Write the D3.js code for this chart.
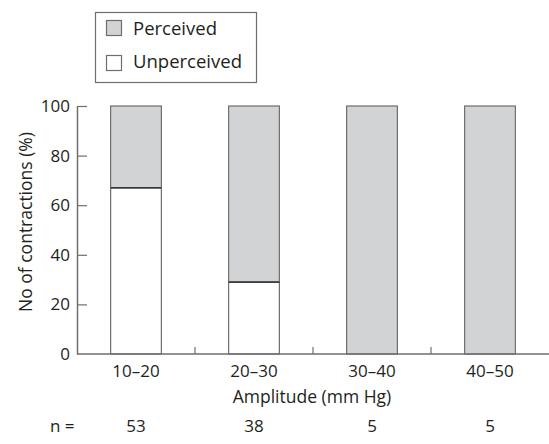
<!DOCTYPE html>
<html>
<head>
<meta charset="utf-8">
<script src="https://cdn.jsdelivr.net/npm/d3@7"></script>
<style>
  body { margin: 0; background: #fff; }
  svg { font-family: "Open Sans", "DejaVu Sans", sans-serif; }
</style>
</head>
<body>
<div id="chart"></div>
<script>
// chart data
const categories = ['10–20', '20–30', '30–40', '40–50'];
const unperceived = [67, 29, 0, 0];
const perceived = [33, 71, 100, 100];
const counts = [53, 38, 5, 5];
const yTicks = [0, 20, 40, 60, 80, 100];

const W = 549, H = 444;
const margin = { top: 106, right: 0, bottom: 90, left: 77 };
const width = W - margin.left - margin.right;
const height = H - margin.top - margin.bottom;

const svg = d3.select('#chart')
  .append('svg')
  .attr('width', W)
  .attr('height', H);

const g = svg.append('g')
  .attr('transform', `translate(${margin.left},${margin.top})`);

const x = d3.scaleBand()
  .domain(categories)
  .range([0, width])
  .paddingInner(0.57)
  .paddingOuter(0.285);

const step = x.step();

const y = d3.scaleLinear()
  .domain([0, 100])
  .range([height, 0]);

const axisColor = '#6d6e71';
const grey = '#d1d3d4';
const ink = '#231f20';

// bars: unperceived (white) stacked under perceived (grey)
const rows = categories.map((c, i) => ({ c, u: unperceived[i], p: perceived[i] }));

g.selectAll('.perc')
  .data(rows)
  .join('rect')
  .attr('x', d => x(d.c))
  .attr('y', d => y(d.u + d.p))
  .attr('width', x.bandwidth())
  .attr('height', d => y(d.u) - y(d.u + d.p))
  .attr('fill', grey)
  .attr('stroke', axisColor)
  .attr('stroke-width', 1.2);

g.selectAll('.unperc')
  .data(rows.filter(d => d.u > 0))
  .join('rect')
  .attr('x', d => x(d.c))
  .attr('y', d => y(d.u))
  .attr('width', x.bandwidth())
  .attr('height', d => y(0) - y(d.u))
  .attr('fill', '#fff')
  .attr('stroke', axisColor)
  .attr('stroke-width', 1.2);

// dividing line between the two parts
g.selectAll('.div')
  .data(rows.filter(d => d.u > 0))
  .join('line')
  .attr('x1', d => x(d.c))
  .attr('x2', d => x(d.c) + x.bandwidth())
  .attr('y1', d => y(d.u))
  .attr('y2', d => y(d.u))
  .attr('stroke', '#222')
  .attr('stroke-width', 1.1);

// y axis with inward ticks
const yAxis = g.append('g')
  .call(d3.axisLeft(y).tickValues(yTicks).tickSizeInner(-10).tickSizeOuter(0).tickPadding(7));
yAxis.select('.domain').attr('stroke', axisColor).attr('stroke-width', 1.5);
yAxis.selectAll('.tick line').attr('stroke', axisColor).attr('stroke-width', 1.2);
yAxis.selectAll('.tick text')
  .attr('fill', ink)
  .style('font-size', '17px')
  .style('font-family', '"Open Sans", sans-serif');
yAxis.selectAll('.tick').filter(d => d === 0).select('line').remove();

// x axis line
g.append('line')
  .attr('x1', 0).attr('x2', width)
  .attr('y1', height).attr('y2', height)
  .attr('stroke', axisColor)
  .attr('stroke-width', 1.5);

// small separator ticks between categories
g.selectAll('.sep')
  .data(categories.slice(1))
  .join('line')
  .attr('x1', d => x(d) - step * x.paddingInner() / 2)
  .attr('x2', d => x(d) - step * x.paddingInner() / 2)
  .attr('y1', height)
  .attr('y2', height - 7)
  .attr('stroke', axisColor)
  .attr('stroke-width', 1.2);

// category labels
g.selectAll('.cat')
  .data(categories)
  .join('text')
  .attr('x', d => x(d) + x.bandwidth() / 2)
  .attr('y', height + 23)
  .attr('text-anchor', 'middle')
  .attr('fill', ink)
  .style('font-size', '17px')
  .text(d => d);

// x axis title
g.append('text')
  .attr('x', width / 2 - 1)
  .attr('y', height + 49)
  .attr('text-anchor', 'middle')
  .attr('fill', ink)
  .style('font-size', '17.5px')
  .text('Amplitude (mm Hg)');

// n row
g.append('text')
  .attr('x', 50 - margin.left)
  .attr('y', height + 78)
  .attr('fill', ink)
  .style('font-size', '17px')
  .text('n =');

g.selectAll('.n')
  .data(categories)
  .join('text')
  .attr('x', d => x(d) + x.bandwidth() / 2)
  .attr('y', height + 78)
  .attr('text-anchor', 'middle')
  .attr('fill', ink)
  .style('font-size', '17px')
  .text((d, i) => counts[i]);

// y axis title
svg.append('text')
  .attr('transform', `translate(32,${margin.top + height / 2 - 8}) rotate(-90)`)
  .attr('text-anchor', 'middle')
  .attr('fill', ink)
  .style('font-size', '17.5px')
  .text('No of contractions (%)');

// legend
const legend = svg.append('g');
legend.append('rect')
  .attr('x', 95.5).attr('y', 12.5)
  .attr('width', 161).attr('height', 70)
  .attr('fill', 'none')
  .attr('stroke', axisColor)
  .attr('stroke-width', 1.2);

const legendItems = [
  { label: 'Perceived', fill: grey },
  { label: 'Unperceived', fill: '#fff' }
];

legendItems.forEach((it, i) => {
  legend.append('rect')
    .attr('x', 106.5).attr('y', 20.5 + i * 35)
    .attr('width', 15).attr('height', 15)
    .attr('fill', it.fill)
    .attr('stroke', axisColor)
    .attr('stroke-width', 1.2);
  legend.append('text')
    .attr('x', 133)
    .attr('y', 35 + i * 33)
    .attr('fill', ink)
    .style('font-size', '18.5px')
    .text(it.label);
});
</script>
</body>
</html>
